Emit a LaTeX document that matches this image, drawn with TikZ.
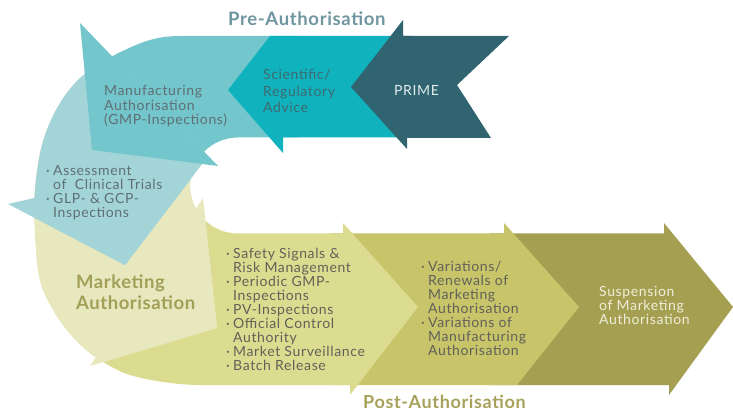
\documentclass[tikz,border=0pt]{standalone}
\usepackage{fontspec}
\setmainfont{Lato}[LetterSpace=4.5]
\definecolor{PriC}{HTML}{2F6470}
\definecolor{SciC}{HTML}{10B3BD}
\definecolor{ManC}{HTML}{74C6CD}
\definecolor{AssC}{HTML}{A3D5D8}
\definecolor{MktC}{HTML}{E8E8BE}
\definecolor{SafC}{HTML}{DCDC91}
\definecolor{VarC}{HTML}{C8C46A}
\definecolor{SusC}{HTML}{A59F51}
\definecolor{PreT}{HTML}{6F96A0}
\definecolor{PostT}{HTML}{A7A15A}
\definecolor{MktT}{HTML}{A29F58}
\definecolor{TopT}{HTML}{5F6F73}
\definecolor{SciT}{HTML}{3E6A70}
\definecolor{BotT}{HTML}{616159}
\definecolor{LightT}{HTML}{EFEEDA}
\definecolor{PrimeT}{HTML}{E3ECEE}
\newcommand{\bl}{\makebox[7pt][l]{·}}
\newcommand{\ind}{\hspace*{7pt}}
\def\silpath{(182,36) .. controls (171.3,36) and (161.5,36.7) .. (150,40)
 .. controls (138.5,43.3) and (124.7,49.7) .. (113,56)
 .. controls (101.3,62.3) and (89.3,69.3) .. (80,78)
 .. controls (70.7,86.7) and (63.3,96.8) .. (57,108)
 .. controls (50.7,119.2) and (45.7,131.3) .. (42,145)
 .. controls (38.3,158.7) and (36.2,175.8) .. (35,190)
 .. controls (33.8,204.2) and (34.2,215) .. (35,230)
 .. controls (35.8,245) and (36.7,266.2) .. (40,280)
 .. controls (43.3,293.8) and (49.5,303.5) .. (55,313)
 .. controls (60.5,322.5) and (67.2,330.3) .. (73,337)
 .. controls (78.8,343.7) and (83.8,348.2) .. (90,353)
 .. controls (96.2,357.8) and (103.3,362.3) .. (110,366)
 .. controls (116.7,369.7) and (121.2,372.3) .. (130,375)
 .. controls (138.8,377.7) and (151.3,380.3) .. (163,382)
 .. controls (174.7,383.7) and (187.7,385) .. (200,385)
 -- (400,385) -- (400,36) -- cycle
 (400,137.5) -- (238,137.5) arc[start angle=270,end angle=90,radius=48] -- (400,233.5) -- cycle}
\tikzset{
  txt/.style={anchor=north west, inner sep=0pt, align=left, font=\fontsize{14}{14}\selectfont},
  ttl/.style={anchor=base west, inner sep=0pt, font=\fontsize{18.5}{20}\selectfont\bfseries\addfontfeatures{LetterSpace=3.5}},
}
\begin{document}
\begin{tikzpicture}[x=1pt,y=-1pt]
\useasboundingbox (0,0) rectangle (733,411);
% bottom row (back to front)
\fill[SusC] (490,233.5) -- (664,233.5) -- (664,223) -- (733,307) -- (669,395) -- (669,385) -- (490,385) -- cycle;
\fill[VarC] (330,233.5) -- (504,233.5) -- (504,223) -- (579,307) -- (517,385) -- (330,385) -- cycle;
% Safety
\begin{scope}[even odd rule]
\clip \silpath;
\fill[SafC] (0,150) rectangle (343,411);
\end{scope}
\fill[SafC] (340,233.5) -- (343,233.5) -- (343,223) -- (418,307) -- (350,395) -- (350,385) -- (340,385) -- cycle;
% Marketing
\begin{scope}[even odd rule]
\clip \silpath;
\fill[MktC] (0,120) -- (212,140) -- (203,198) -- (217,328) -- (90,366) -- (0,400) -- cycle;
\end{scope}
\fill[MktC] (203,198) -- (217,328) -- (90,366) -- cycle;
% Assessment
\begin{scope}[even odd rule]
\clip \silpath;
\fill[AssC] (0,20) -- (100,20) -- (206,159) -- (125,265) -- (8,204) -- (0,204) -- cycle;
\end{scope}
\fill[AssC] (8,204) -- (125,265) -- (206,159) -- cycle;
% Manufacturing
\begin{scope}[even odd rule]
\clip \silpath;
\fill[ManC] (80,23) -- (80,0) -- (300,0) -- (300,160) -- (218,166) -- cycle;
\end{scope}
\fill[ManC] (80,23) -- (218,166) -- (92,150) -- cycle;
% Scientific
\fill[SciC] (270,36) -- (228,90) -- (283,153) -- (283,137.5) -- (410,137.5) -- (410,36) -- cycle;
% PRIME
\fill[PriC] (509,36) -- (457,85) -- (491,138) -- (407,138) -- (407,149) -- (351,87) -- (403,20) -- (403,36) -- cycle;
% texts
\node[ttl, text=PreT] (pre) at (228,26) {Pre-Authorisation};
\node[ttl, text=PostT, font=\fontsize{18}{20}\selectfont\bfseries\addfontfeatures{LetterSpace=3.5}] (post) at (363,408.5) {Post-Authorisation};
\node[anchor=base west, inner sep=0pt, font=\fontsize{14}{15}\selectfont, text=PrimeT] (prime) at (394,95.7) {PRIME};
\node[txt, text=SciT, font=\fontsize{14}{16.5}\selectfont] (sci) at (263,69.3) {Scientific/\\Regulatory\\Advice};
\node[txt, text=TopT, font=\fontsize{14}{14.5}\selectfont] (man) at (104,85.3) {Manufacturing\\Authorisation\\(GMP-Inspections)};
\node[txt, text=TopT] (ass) at (46,164.8) {\bl Assessment\\\ind of\ \ Clinical Trials\\\bl GLP- \& GCP-\\\ind Inspections};
\node[txt, text=MktT, font=\fontsize{18.5}{21}\selectfont\bfseries\addfontfeatures{LetterSpace=3}] (mkt) at (76,274.8) {Marketing\\Authorisation};
\node[txt, text=BotT] (saf) at (226,247.7) {\bl Safety Signals \&\\\ind Risk Management\\\bl Periodic GMP-\\\ind Inspections\\\bl PV-Inspections\\\bl Official Control\\\ind Authority\\\bl Market Surveillance\\\bl Batch Release};
\node[txt, text=BotT] (var) at (421,261.4) {\bl Variations/\\\ind Renewals of\\\ind Marketing\\\ind Authorisation\\\bl Variations of\\\ind Manufacturing\\\ind Authorisation};
\node[txt, text=LightT] (sus) at (599,285.8) {Suspension\\of Marketing\\Authorisation};
\end{tikzpicture}
\end{document}
